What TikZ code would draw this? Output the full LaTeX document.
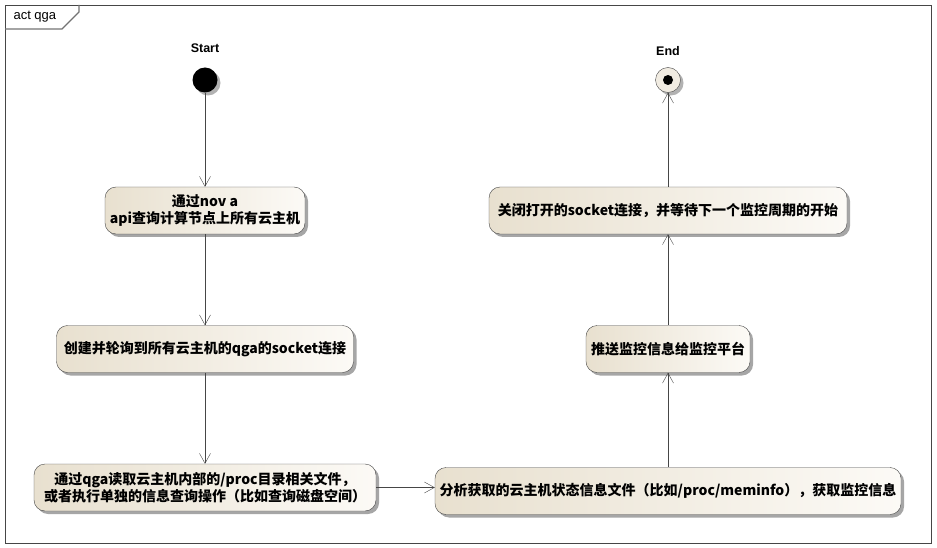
\documentclass[tikz,border=0pt]{standalone}
\usepackage{fontspec}
\setmainfont{Liberation Sans}
\newfontfamily\cjk{Noto Sans CJK SC}
\usepackage{tikz}
\usetikzlibrary{arrows.meta}
\usetikzlibrary{shadows}
\usepackage{xcolor}

\definecolor{boxleft}{RGB}{232,224,207}
\definecolor{boxright}{RGB}{252,250,246}
\definecolor{linegray}{RGB}{70,70,70}

\begin{document}
\begin{tikzpicture}[x=1pt,y=-1pt,
    act box/.style={rectangle,rounded corners=11pt,draw=linegray,left color=boxleft,right color=boxright,
      drop shadow={shadow xshift=3pt,shadow yshift=-3pt,fill=black!35,opacity=1},
      minimum height=47pt,inner sep=2pt,align=center,font=\cjk\bfseries\fontsize{14}{17}\selectfont},
    flow/.style={->,>={Straight Barb[length=10pt,width=11pt]},draw=linegray},
    caption/.style={font=\bfseries\fontsize{12.5}{14}\selectfont}]

    \useasboundingbox (0,0) rectangle (937,548);

    % frame
    \draw[linegray] (5,5) rectangle (931,543);
    \draw[black!55,line width=1.2pt] (5,29) -- (62,29) -- (79,12) -- (79,5);
    \node[anchor=west,font=\fontsize{13}{15}\selectfont] (frametitle) at (10,17) {act qga};

    % start / end
    \node[circle,fill=black,minimum size=25pt,inner sep=0pt,
      drop shadow={shadow xshift=3pt,shadow yshift=-3pt,fill=black!30,opacity=1}] (start) at (205,80) {};
    \node[caption] (startlabel) at (205,48) {Start};
    \node[circle,draw=linegray,fill=boxleft!60,minimum size=25pt,inner sep=0pt,
      drop shadow={shadow xshift=3pt,shadow yshift=-3pt,fill=black!30,opacity=1}] (end) at (668,80) {};
    \node[circle,fill=black,minimum size=10pt,inner sep=0pt] (enddot) at (end) {};
    \node[caption] (endlabel) at (668,51) {End};

    % actions
    \node[act box,minimum width=200pt] (query) at (205,210.5) {通过nov a\\api查询计算节点上所有云主机};
    \node[act box,minimum width=297pt] (connect) at (205,349) {创建并轮询到所有云主机的qga的socket连接};
    \node[act box,minimum width=342pt] (readinfo) at (205,487.5) {通过qga读取云主机内部的/proc目录相关文件，\\或者执行单独的信息查询操作（比如查询磁盘空间）};
    \node[act box,minimum width=466pt] (parse) at (668,491) {分析获取的云主机状态信息文件（比如/proc/meminfo），获取监控信息};
    \node[act box,minimum width=164pt] (push) at (668,349) {推送监控信息给监控平台};
    \node[act box,minimum width=358pt] (close) at (668,210.5) {关闭打开的socket连接，并等待下一个监控周期的开始};

    \path[flow]
    (start) edge (query)
    (query) edge (connect)
    (connect) edge (readinfo)
    (readinfo) edge (readinfo -| parse.west)
    (parse) edge (push)
    (push) edge (close)
    (close) edge (end);

\end{tikzpicture}
\end{document}
